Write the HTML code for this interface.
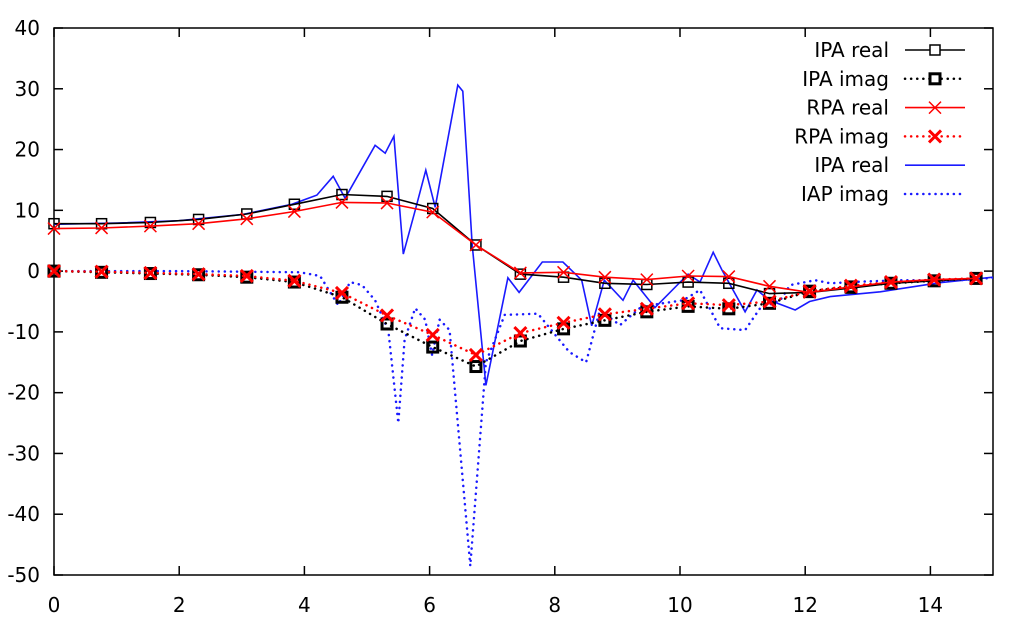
<!DOCTYPE html>
<html><head><meta charset="utf-8"><style>
body{margin:0;background:#fff;}
svg{display:block;font-family:"DejaVu Sans","Liberation Sans",sans-serif;}
</style></head><body>
<svg id="chart" width="1019" height="624" viewBox="0 0 1019 624"></svg>
<script>
const xMarkers=[0,0.76,1.54,2.31,3.08,3.84,4.6,5.32,6.05,6.74,7.45,8.14,8.8,9.47,10.13,10.78,11.43,12.07,12.73,13.37,14.06,14.73];
const ipaReal=[7.8,7.8,8.0,8.5,9.4,11.0,12.6,12.3,10.3,4.3,-0.5,-1.0,-2.0,-2.2,-1.8,-2.0,-3.7,-3.5,-2.8,-2.0,-1.6,-1.2];
const ipaImag=[0,-0.2,-0.4,-0.6,-1.0,-1.8,-4.3,-8.7,-12.5,-15.7,-11.5,-9.5,-8.1,-6.7,-5.8,-6.2,-5.3,-3.3,-2.6,-2.0,-1.6,-1.2];
const rpaReal=[7.0,7.1,7.4,7.8,8.6,9.8,11.3,11.2,9.7,4.3,-0.3,-0.2,-1.0,-1.4,-0.8,-0.9,-2.5,-3.5,-2.6,-1.8,-1.4,-1.2];
const rpaImag=[0,-0.1,-0.3,-0.5,-0.8,-1.6,-3.6,-7.3,-10.5,-13.8,-10.2,-8.5,-7.1,-6.2,-5.3,-5.6,-5.0,-3.3,-2.4,-1.8,-1.4,-1.2];
const blueRealX=[0,1,2,3,3.8,4.2,4.46,4.65,5.13,5.29,5.43,5.58,5.77,5.94,6.09,6.45,6.53,6.68,6.9,7.25,7.43,7.8,8.13,8.43,8.59,8.79,9.09,9.25,9.6,10.13,10.32,10.53,10.67,11.04,11.23,11.43,11.84,12.07,12.4,13.2,14.15,15];
const blueRealY=[7.7,7.9,8.3,9.3,11,12.5,15.6,12.0,20.7,19.4,22.2,2.8,10,16.6,10.5,30.6,29.6,4.3,-18.8,-1.1,-3.5,1.5,1.5,-1.5,-9,-1.5,-4.8,-1.5,-6,-0.5,-1.8,3.1,0.2,-6.7,-3.1,-4.8,-6.4,-5,-4.2,-3.4,-1.9,-1];
const blueImagX=[0,2,3.93,4.25,4.54,4.73,4.92,5.13,5.34,5.5,5.6,5.77,5.93,6.04,6.16,6.32,6.65,6.9,7.2,7.73,8.23,8.5,8.72,9.04,9.39,10.05,10.32,10.64,11.04,11.28,11.6,11.76,12.16,12.4,12.72,13.5,14.47,15];
const blueImagY=[0,0,-0.2,-0.8,-5.6,-1.8,-2.3,-4.8,-9.7,-25,-11.3,-6.1,-8,-13.8,-8,-9.7,-48.5,-15,-7.2,-7,-13.3,-15,-6.4,-8.9,-5.8,-4.8,-3.1,-9.4,-9.7,-6.1,-4.8,-2.3,-1.5,-2,-1.8,-1.5,-1.5,-1.1];
const xTicks=[0,2,4,6,8,10,12,14];
const yTicks=[40,30,20,10,0,-10,-20,-30,-40,-50];

const L=54,R=993,T=28,B=575;
const sx=v=>L+(v-0)/15*(R-L);
const sy=v=>T+(40-v)/90*(B-T);
const svg=document.getElementById('chart');
const NS='http://www.w3.org/2000/svg';
function mk(tag,attrs,parent){const e=document.createElementNS(NS,tag);for(const k in attrs)e.setAttribute(k,attrs[k]);(parent||svg).appendChild(e);return e;}

const gAxis=mk('g',{});


const frame=mk('rect',{x:L,y:T,width:R-L,height:B-T,fill:'none',stroke:'#000','stroke-width':1.5},gAxis);


xTicks.forEach(v=>{
  const x=sx(v);
  mk('line',{x1:x,y1:B,x2:x,y2:B-9,stroke:'#000','stroke-width':1.5},gAxis);
  mk('line',{x1:x,y1:T,x2:x,y2:T+9,stroke:'#000','stroke-width':1.5},gAxis);
  const t=mk('text',{x:x,y:612,'text-anchor':'middle','font-size':20,fill:'#000'},gAxis);
  t.textContent=v;
  
  
});
yTicks.forEach(v=>{
  const y=sy(v);
  mk('line',{x1:L,y1:y,x2:L+9,y2:y,stroke:'#000','stroke-width':1.5},gAxis);
  mk('line',{x1:R,y1:y,x2:R-9,y2:y,stroke:'#000','stroke-width':1.5},gAxis);
  const t=mk('text',{x:40,y:y+7,'text-anchor':'end','font-size':20,fill:'#000'},gAxis);
  t.textContent=v;
  
  
});

const clip=mk('clipPath',{id:'pc'});
mk('rect',{x:L,y:T,width:R-L,height:B-T},clip);

function line(xs,ys,color,dash,name){
  const d=xs.map((x,i)=>(i?'L':'M')+sx(x).toFixed(1)+','+sy(ys[i]).toFixed(1)).join('');
  const p=mk('path',{d:d,fill:'none',stroke:color,'stroke-width':dash?2.5:1.6,'stroke-dasharray':dash||'none','stroke-linecap':dash?'round':'butt','clip-path':'url(#pc)'});
  
  
}
function squares(xs,ys,color,w,name){
  xs.forEach((x,i)=>{
    const r=mk('rect',{x:sx(x)-5,y:sy(ys[i])-5,width:10,height:10,fill:'none',stroke:color,'stroke-width':w});
    
    
  });
}
function crosses(xs,ys,color,w,name){
  xs.forEach((x,i)=>{
    const cx=sx(x),cy=sy(ys[i]);
    const p=mk('path',{d:`M${cx-6},${cy-6}L${cx+6},${cy+6}M${cx-6},${cy+6}L${cx+6},${cy-6}`,stroke:color,'stroke-width':w});
    
    
  });
}
line(blueImagX,blueImagY,'#1a1aff','0.1 6','iap-imag-line');
line(blueRealX,blueRealY,'#1a1aff',null,'ipa-real-blue-line');
line(xMarkers,ipaImag,'#000','0.1 6','ipa-imag-line');
squares(xMarkers,ipaImag,'#000',3,'ipa-imag-marker');
line(xMarkers,ipaReal,'#000',null,'ipa-real-line');
squares(xMarkers,ipaReal,'#000',1.5,'ipa-real-marker');
line(xMarkers,rpaImag,'#ff0000','0.1 6','rpa-imag-line');
crosses(xMarkers,rpaImag,'#ff0000',3,'rpa-imag-marker');
line(xMarkers,rpaReal,'#ff0000',null,'rpa-real-line');
crosses(xMarkers,rpaReal,'#ff0000',1.5,'rpa-real-marker');

const legend=[['IPA real','#000',null,'sq1'],['IPA imag','#000','0.1 6','sq3'],['RPA real','#ff0000',null,'x1'],['RPA imag','#ff0000','0.1 6','x3'],['IPA real','#1a1aff',null,''],['IAP imag','#1a1aff','0.1 6','']];
const gL=mk('g',{});


legend.forEach((e,i)=>{
  const y=50+i*28.8;
  const g=mk('g',{},gL);
  
  
  const t=mk('text',{x:889,y:y+7,'text-anchor':'end','font-size':20,fill:'#000'},g);
  t.textContent=e[0];
  mk('line',{x1:905,y1:y,x2:965,y2:y,stroke:e[1],'stroke-width':e[2]?2.5:1.6,'stroke-dasharray':e[2]||'none','stroke-linecap':e[2]?'round':'butt'},g);
  if(e[3].startsWith('sq'))mk('rect',{x:930,y:y-5,width:10,height:10,fill:'#fff',stroke:e[1],'stroke-width':e[3]==='sq3'?3:1.5},g);
  if(e[3].startsWith('x'))mk('path',{d:`M929,${y-6}L941,${y+6}M929,${y+6}L941,${y-6}`,stroke:e[1],'stroke-width':e[3]==='x3'?3:1.5},g);
});
</script>
</body></html>
